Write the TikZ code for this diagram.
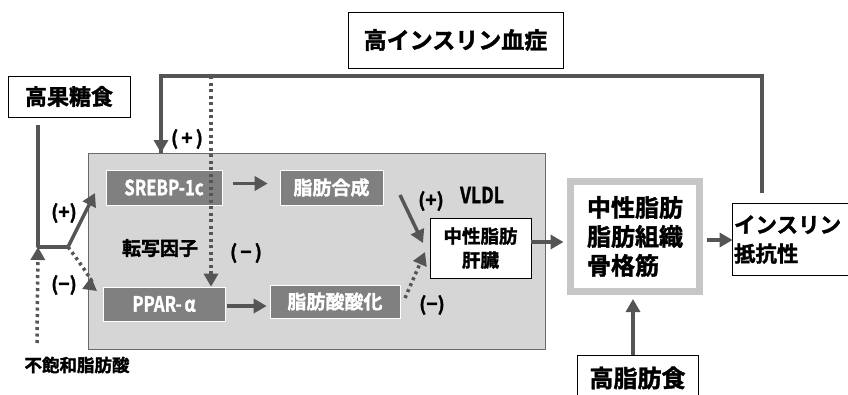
\documentclass[tikz,border=0pt]{standalone}
\usepackage{fontspec}
\usepackage{graphicx}
\setmainfont{Noto Sans CJK JP Bold}[FakeBold=1.6]
\usetikzlibrary{arrows.meta,calc}
\definecolor{arr}{HTML}{555555}
\definecolor{mid}{HTML}{808080}
\definecolor{panel}{HTML}{D6D6D6}
\definecolor{pbord}{HTML}{6A6A6A}
\definecolor{tbord}{HTML}{C6C6C6}
\newcommand{\cond}[1]{\scalebox{0.8}[1]{#1}}
\begin{document}
\begin{tikzpicture}[x=1pt,y=-1pt,
  wbox/.style={draw=black,line width=0.8pt,fill=white,inner sep=0pt,align=center},
  gbox/.style={draw=white,line width=0.6pt,fill=mid,text=white,inner sep=0pt},
  ar/.style={draw=arr,line width=3.5pt,-{Triangle[length=13pt,width=14pt]}},
  dar/.style={draw=arr,line width=3.5pt,dash pattern=on 3pt off 3.5pt,-{Triangle[length=13pt,width=14pt]}},
  fb/.style={draw=arr,line width=4pt},
  lbl/.style={inner sep=0pt,font=\fontsize{19}{19}\selectfont}]
\fill[white] (0,0) rectangle (848,394);
\useasboundingbox (0,0) rectangle (848,394);
% panel
\node[draw=pbord,line width=0.8pt,fill=panel,minimum width=457pt,minimum height=196pt,inner sep=0pt] (tf) at (316.5,251) {};
% boxes
\node[wbox,minimum width=122pt,minimum height=41pt,font=\fontsize{22}{22}\selectfont] (hfs) at (69,96.5) {高果糖食};
\node[wbox,minimum width=215pt,minimum height=56pt,font=\fontsize{23}{23}\selectfont] (hins) at (455.5,40) {高インスリン血症};
\node[gbox,minimum width=116pt,minimum height=35pt,font=\fontsize{21}{21}\selectfont] (srebp) at (164,187.5) {\cond{SREBP-1c}};
\node[gbox,minimum width=103pt,minimum height=35pt,font=\fontsize{19}{19}\selectfont] (fs) at (331.5,187.5) {脂肪合成};
\node[gbox,minimum width=122pt,minimum height=34pt,font=\fontsize{21}{21}\selectfont] (ppar) at (164,304) {\cond{PPAR-\,α}};
\node[gbox,minimum width=130pt,minimum height=33pt,font=\fontsize{19}{19}\selectfont] (fao) at (335,301.5) {脂肪酸酸化};
\node[wbox,minimum width=101pt,minimum height=60pt,font=\fontsize{18.5}{24}\selectfont] (liver) at (480.5,248) {中性脂肪\\肝臓};
\node[draw=tbord,line width=7pt,fill=white,inner sep=0pt,align=left,minimum width=129pt,minimum height=110pt,font=\fontsize{24}{29}\selectfont] (tis) at (635,236.5) {中性脂肪\\脂肪組織\\骨格筋};
\node[wbox,minimum height=72pt,text width=116pt,inner xsep=2pt,align=left,font=\fontsize{21.5}{29}\selectfont] (ir) at (792,239.5) {インスリン\\抵抗性};
\node[wbox,minimum width=121pt,minimum height=45pt,font=\fontsize{24}{24}\selectfont] (hfd) at (637.5,378) {高脂肪食};
% labels
\node[lbl] (p1) at (187,139) {(\,+\,)};
\node[lbl] (p2) at (64,213) {(+)};
\node[lbl] (m1) at (64,285) {(−)};
\node[inner sep=0pt,font=\fontsize{19}{19}\selectfont] (tx) at (160,248) {転写因子};
\node[lbl] (m2) at (246,253) {(\,−\,)};
\node[lbl] (p3) at (431,201) {(+)};
\node[inner sep=0pt,font=\fontsize{22}{22}\selectfont] (vldl) at (482,195) {\cond{VLDL}};
\node[lbl] (m3) at (432,305) {(−)};
\node[inner sep=0pt,font=\fontsize{17.5}{17.5}\selectfont] (ufa) at (77,365) {不飽和脂肪酸};
% coordinates
\coordinate (fbS) at (762,193);
\coordinate (fbA) at (762,76);
\coordinate (fbB) at (161,76);
\coordinate (dotS) at (211,76);
\coordinate (hfsS) at (38,125);
\coordinate (jn) at (38,247);
\coordinate (jn2) at (68,247);
\coordinate (ufaS) at (37,343);
% feedback loop
\draw[fb,line join=miter] (fbS) -- (fbA) -- (fbB) -- (fbB |- tf.north);
\path[draw=arr,-{Triangle[length=13pt,width=14pt]},line width=4pt] (161,135) -- (161,153);
\draw[dar] (dotS) -- (dotS |- ppar.north);
% fructose path
\draw[draw=arr,line width=3.5pt,line join=round] (hfsS) -- (jn) -- (jn2);
\draw[ar] (jn2) -- (95,193);
\draw[dar] (jn2) .. controls (84,268) and (94,284) .. (82,289);
\draw[dar] (ufaS) -- (jn);
% inner arrows
\draw[ar] ($(srebp.east)+(11,-4)$) -- ($(fs.west)+(-12,-4)$);
\draw[ar] ($(ppar.east)+(2,2)$) -- ($(fao.west)+(-3,4.5)$);
\draw[ar] (400,195) -- (423,243);
\draw[dar] (405,298) -- (425,252);
\draw[ar] ($(liver.east)+(0,-6)$) -- ($(tis.west)+(-3.5,5.5)$);
\draw[ar] ($(tis.east)+(3.5,3.5)$) -- ($(ir.west)+(1,0.5)$);
\draw[ar] (hfd.north -| 633,0) -- (633,299);
\end{tikzpicture}
\end{document}
